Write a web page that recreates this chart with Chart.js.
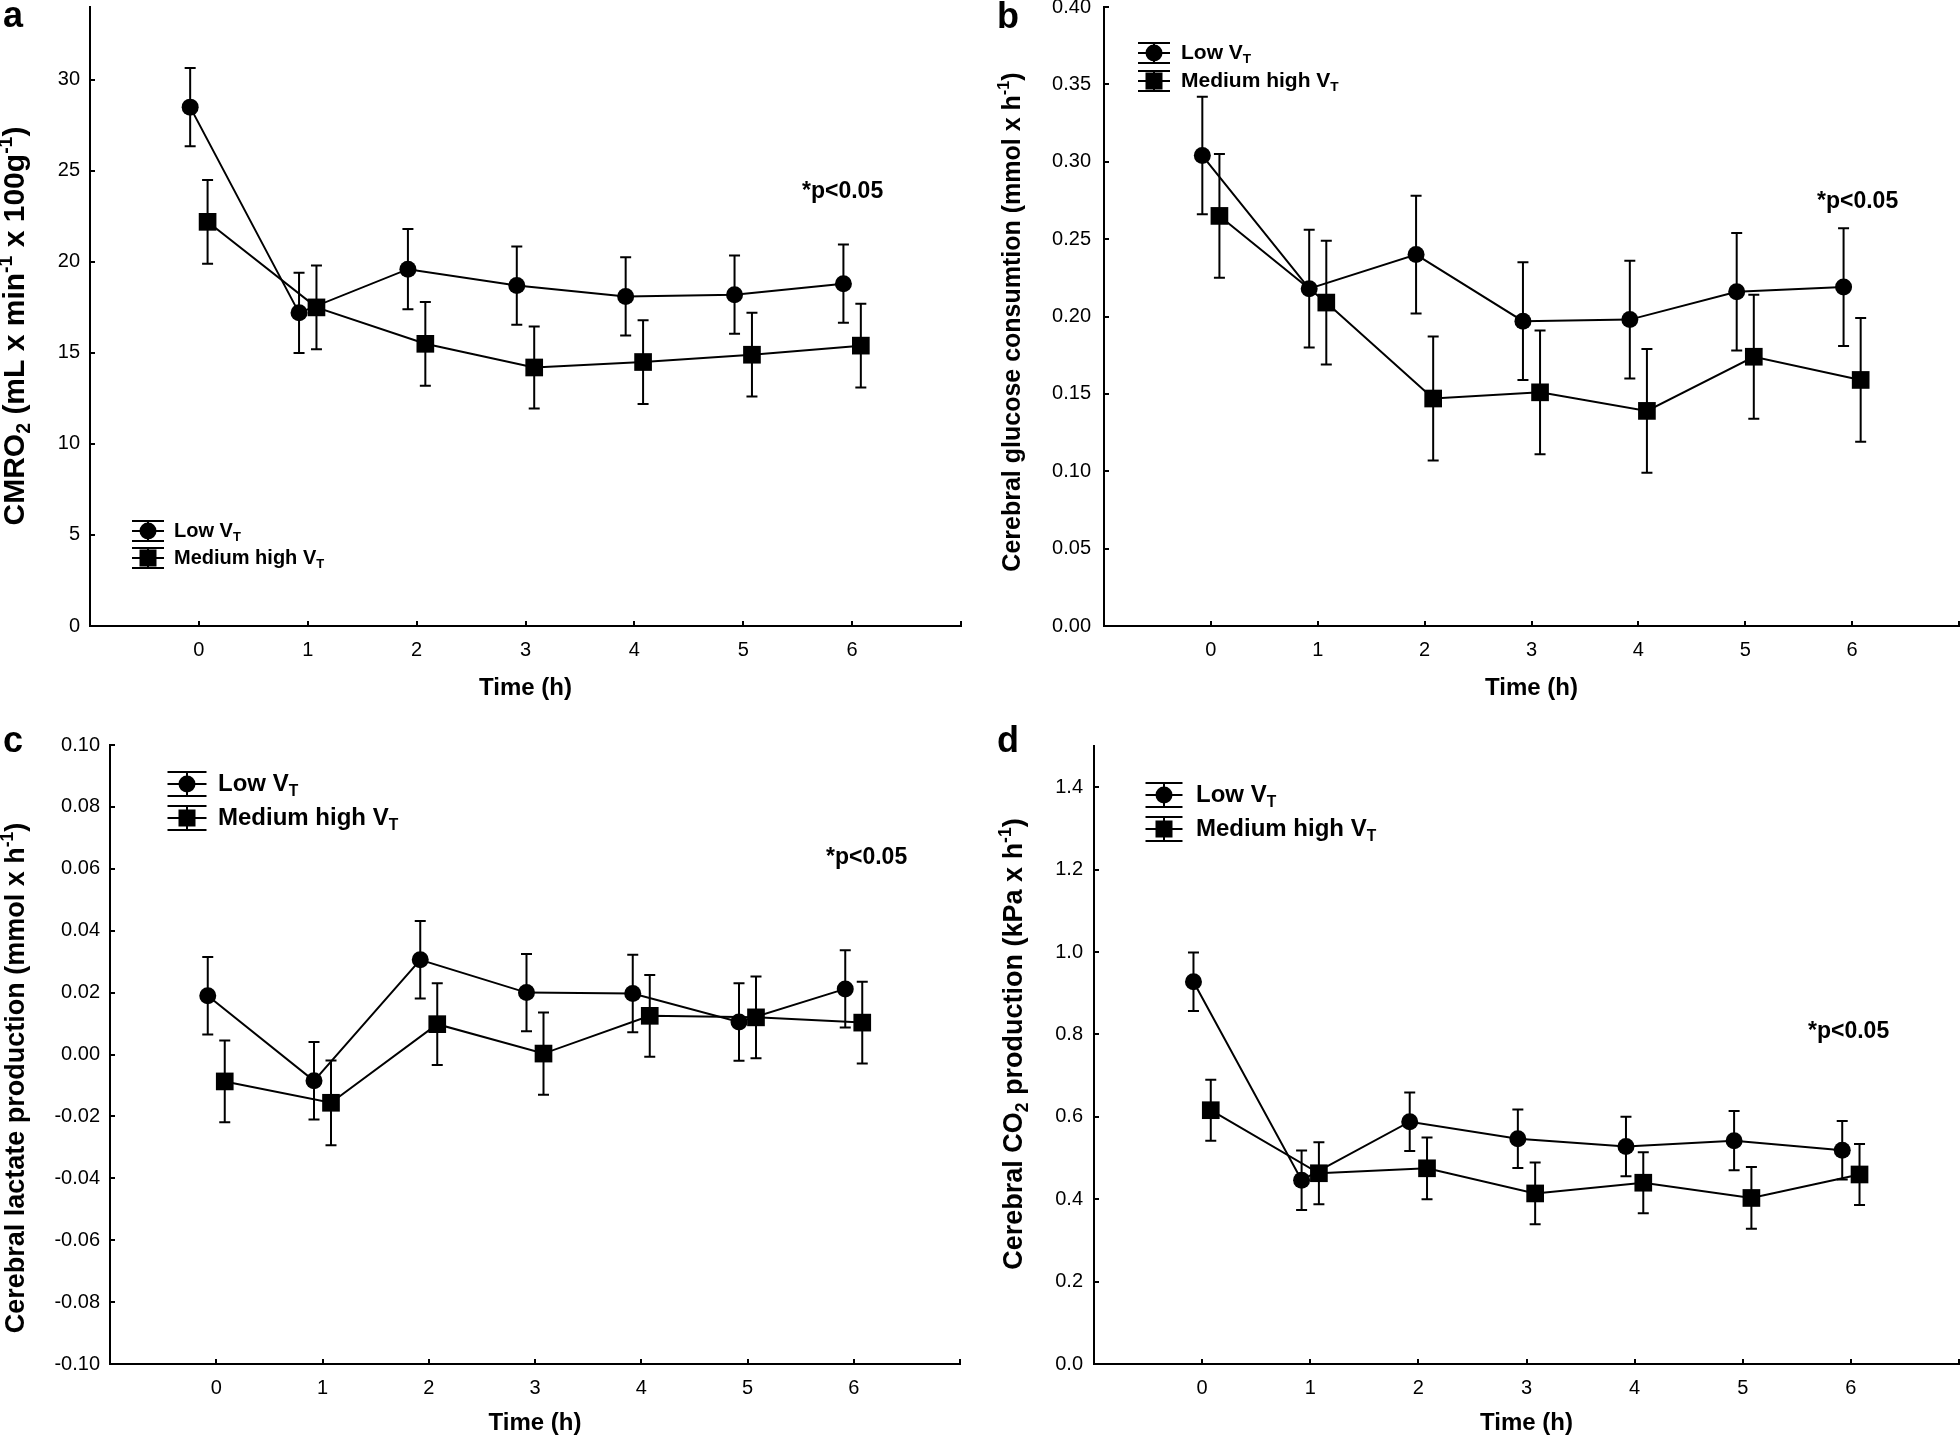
<!DOCTYPE html>
<html>
<head>
<meta charset="utf-8">
<script src="https://cdn.jsdelivr.net/npm/chart.js@4.4.1/dist/chart.umd.min.js"></script>
<style>
  html, body { margin: 0; padding: 0; background: #fff; overflow: hidden; }
  body { width: 1960px; height: 1440px; position: relative; }
  canvas { position: absolute; }
</style>
</head>
<body>
<canvas id="chartA"></canvas>
<canvas id="chartB"></canvas>
<canvas id="chartC"></canvas>
<canvas id="chartD"></canvas>
<script>
// time points (h)
const hours = [0, 1, 2, 3, 4, 5, 6];
const legendLabels = ["Low V", "Medium high V"]; // V gets a subscript T
const xTitle = "Time (h)";
const pValueText = "*p<0.05";

// a: CMRO2
const cmroLow = [28.5, 17.2, 19.6, 18.7, 18.1, 18.2, 18.8];
const cmroLowErr = [2.15, 2.2, 2.2, 2.15, 2.15, 2.15, 2.15];
const cmroMed = [22.2, 17.5, 15.5, 14.2, 14.5, 14.9, 15.4];
const cmroMedErr = [2.3, 2.3, 2.3, 2.25, 2.3, 2.3, 2.3];

// b: cerebral glucose consumption
const glucLow = [0.304, 0.218, 0.240, 0.197, 0.198, 0.216, 0.219];
const glucLowErr = [0.038, 0.038, 0.038, 0.038, 0.038, 0.038, 0.038];
const glucMed = [0.265, 0.209, 0.147, 0.151, 0.139, 0.174, 0.159];
const glucMedErr = [0.040, 0.040, 0.040, 0.040, 0.040, 0.040, 0.040];

// c: cerebral lactate production
const lactLow = [0.019, -0.0085, 0.0306, 0.020, 0.0197, 0.0105, 0.0212];
const lactLowErr = [0.0125, 0.0125, 0.0125, 0.0125, 0.0125, 0.0125, 0.0125];
const lactMed = [-0.0087, -0.0156, 0.0098, 0.0003, 0.0125, 0.012, 0.0103];
const lactMedErr = [0.0132, 0.0137, 0.0132, 0.0133, 0.0132, 0.0132, 0.0132];

// d: cerebral CO2 production
const co2Low = [0.928, 0.446, 0.588, 0.547, 0.528, 0.542, 0.519];
const co2LowErr = [0.071, 0.072, 0.071, 0.071, 0.072, 0.072, 0.071];
const co2Med = [0.616, 0.463, 0.475, 0.414, 0.440, 0.403, 0.460];
const co2MedErr = [0.074, 0.075, 0.075, 0.075, 0.074, 0.075, 0.074];

const FONT = "'Liberation Sans', Arial, sans-serif";
const M = 30;          // canvas margin round each panel
const JITTER = 0.08;   // horizontal shift of the two groups
Chart.defaults.font.family = FONT;
Chart.defaults.color = "#000";

function drawRich(ctx, parts, x, y, size, align) {
  let w = 0;
  parts.forEach(([t, k]) => {
    ctx.font = "bold " + (k ? size * 0.65 : size) + "px " + FONT;
    w += ctx.measureText(t).width;
  });
  let cx = align === "center" ? x - w / 2 : x;
  parts.forEach(([t, k]) => {
    ctx.font = "bold " + (k ? size * 0.65 : size) + "px " + FONT;
    const dy = k === "sub" ? size * 0.3 : k === "sup" ? -size * 0.32 : 0;
    ctx.fillText(t, cx, y + dy);
    cx += ctx.measureText(t).width;
  });
}

const errorBars = {
  id: "errorBars",
  beforeDatasetsDraw(chart) {
    const { ctx, scales: { x, y } } = chart;
    ctx.save();
    ctx.strokeStyle = "#000";
    ctx.lineWidth = 2;
    chart.data.datasets.forEach((ds) => {
      ds.data.forEach((p, i) => {
        const px = x.getPixelForValue(p.x);
        const top = y.getPixelForValue(p.y + ds.errors[i]);
        const bot = y.getPixelForValue(p.y - ds.errors[i]);
        ctx.beginPath();
        ctx.moveTo(px, top); ctx.lineTo(px, bot);
        ctx.moveTo(px - 5.5, top); ctx.lineTo(px + 5.5, top);
        ctx.moveTo(px - 5.5, bot); ctx.lineTo(px + 5.5, bot);
        ctx.stroke();
      });
    });
    ctx.restore();
  },
};

function textPlugin(cfg) {
  const ox = cfg.left - M, oy = cfg.top - M;
  return {
    id: "panelText",
    afterDraw(chart) {
      const ctx = chart.ctx;
      ctx.save();
      ctx.fillStyle = "#000";
      ctx.strokeStyle = "#000";
      // panel letter
      ctx.textBaseline = "alphabetic";
      ctx.textAlign = "left";
      ctx.font = "bold 36px " + FONT;
      ctx.fillText(cfg.letter, cfg.letterPos[0] - ox, cfg.letterPos[1] - oy);
      ctx.textBaseline = "middle";
      // y title
      ctx.save();
      ctx.translate(cfg.yTitle.x - ox, cfg.yTitle.y - oy);
      ctx.rotate(-Math.PI / 2);
      drawRich(ctx, cfg.yTitle.parts, 0, 0, cfg.yTitle.size, "center");
      ctx.restore();
      // p value
      ctx.font = "bold 23px " + FONT;
      ctx.fillText(pValueText, cfg.pval[0] - ox, cfg.pval[1] - oy);
      // legend
      const lg = cfg.legend;
      ctx.lineWidth = 2;
      legendLabels.forEach((label, i) => {
        const cx = lg.cx - ox, cy = lg.ys[i] - oy;
        ctx.beginPath();
        [-lg.cap, 0, lg.cap].forEach((d) => {
          ctx.moveTo(cx - lg.half, cy + d);
          ctx.lineTo(cx + lg.half, cy + d);
        });
        ctx.moveTo(cx, cy - lg.cap);
        ctx.lineTo(cx, cy + lg.cap);
        ctx.stroke();
        if (i === 0) {
          ctx.beginPath();
          ctx.arc(cx, cy, 8.5, 0, Math.PI * 2);
          ctx.fill();
        } else {
          ctx.fillRect(cx - 8.5, cy - 8.5, 17, 17);
        }
        drawRich(ctx, [[label, ""], ["T", "sub"]], lg.tx - ox, cy, lg.size, "left");
      });
      ctx.restore();
    },
  };
}

function makePanel(id, cfg, low, lowErr, med, medErr) {
  const cw = 980 + 2 * M, ch = 720 + 2 * M;
  const canvas = document.getElementById(id);
  canvas.width = cw;
  canvas.height = ch;
  canvas.style.left = (cfg.left - M) + "px";
  canvas.style.top = (cfg.top - M) + "px";
  const ox = cfg.left - M, oy = cfg.top - M;
  const [pl, pt, pr, pb] = cfg.plot;
  const xH = cfg.titleGap + 14.4;

  const series = (vals, shift) => vals.map((v, i) => ({ x: hours[i] + shift, y: v }));

  return new Chart(canvas.getContext("2d"), {
    type: "scatter",
    data: {
      datasets: [
        {
          label: legendLabels[0],
          data: series(low, -JITTER),
          errors: lowErr,
          showLine: true,
          borderColor: "#000",
          borderWidth: 2,
          backgroundColor: "#000",
          pointStyle: "circle",
          pointRadius: 8.5,
          pointBorderWidth: 0,
        },
        {
          label: legendLabels[1],
          data: series(med, JITTER),
          errors: medErr,
          showLine: true,
          borderColor: "#000",
          borderWidth: 2,
          backgroundColor: "#000",
          pointStyle: "rect",
          pointRadius: 12.5,
          pointBorderWidth: 0,
        },
      ],
    },
    options: {
      responsive: false,
      animation: false,
      devicePixelRatio: 1,
      layout: {
        padding: {
          left: 0,
          top: pt - oy,
          right: ox + cw - pr,
          bottom: oy + ch - pb - xH,
        },
      },
      plugins: { legend: { display: false }, tooltip: { enabled: false } },
      scales: {
        x: {
          type: "linear",
          min: -1,
          max: 7,
          afterFit: (s) => { s.height = xH; },
          border: { display: true, color: "#000", width: 2 },
          grid: { drawOnChartArea: false, color: "#000", lineWidth: 2, tickLength: -5 },
          ticks: {
            stepSize: 1,
            padding: 17,
            font: { size: 20 },
            callback: (v) => (v >= 0 && v <= 6 ? String(v) : ""),
          },
          title: {
            display: true,
            text: xTitle,
            font: { size: 24, weight: "bold" },
            padding: { top: 0, bottom: 0 },
          },
        },
        y: {
          type: "linear",
          min: cfg.yMin,
          max: cfg.yMax,
          afterFit: (s) => { s.width = pl - ox; },
          border: { display: true, color: "#000", width: 2 },
          grid: { drawOnChartArea: false, color: "#000", lineWidth: 2, tickLength: -5 },
          ticks: {
            stepSize: cfg.step,
            includeBounds: false,
            padding: cfg.tickGap + 5,
            font: { size: 20 },
            callback: (v) => (Math.abs(v) < 1e-9 ? 0 : v).toFixed(cfg.dec),
          },
        },
      },
    },
    plugins: [errorBars, textPlugin(cfg)],
  });
}

makePanel("chartA", {
  left: 0, top: 0, plot: [90, 7, 961, 626],
  yMin: 0, yMax: 34, step: 5, dec: 0, tickGap: 10, titleGap: 62,
  letter: "a", letterPos: [3, 27],
  yTitle: { x: 16, y: 326, size: 30, parts: [["CMRO", ""], ["2", "sub"], [" (mL x min", ""], ["-1", "sup"], [" x 100g", ""], ["-1", "sup"], [")", ""]] },
  legend: { cx: 148, ys: [531, 558], half: 16, cap: 10, tx: 174, size: 20 },
  pval: [802, 192],
}, cmroLow, cmroLowErr, cmroMed, cmroMedErr);

makePanel("chartB", {
  left: 980, top: 0, plot: [1104, 7, 1959, 626],
  yMin: 0, yMax: 0.4, step: 0.05, dec: 2, tickGap: 13, titleGap: 62,
  letter: "b", letterPos: [997, 28],
  yTitle: { x: 1013, y: 322, size: 25, parts: [["Cerebral glucose consumtion (mmol x h", ""], ["-1", "sup"], [")", ""]] },
  legend: { cx: 1154, ys: [53, 81], half: 16, cap: 10, tx: 1181, size: 21 },
  pval: [1817, 202],
}, glucLow, glucLowErr, glucMed, glucMedErr);

makePanel("chartC", {
  left: 0, top: 720, plot: [110, 745, 960, 1364],
  yMin: -0.1, yMax: 0.1, step: 0.02, dec: 2, tickGap: 10, titleGap: 59,
  letter: "c", letterPos: [3, 752],
  yTitle: { x: 17, y: 1078, size: 27, parts: [["Cerebral lactate production (mmol x h", ""], ["-1", "sup"], [")", ""]] },
  legend: { cx: 187, ys: [784, 818], half: 19.5, cap: 12, tx: 218, size: 24 },
  pval: [826, 858],
}, lactLow, lactLowErr, lactMed, lactMedErr);

makePanel("chartD", {
  left: 980, top: 720, plot: [1094, 746, 1959, 1364],
  yMin: 0, yMax: 1.5, step: 0.2, dec: 1, tickGap: 11, titleGap: 59,
  letter: "d", letterPos: [997, 752],
  yTitle: { x: 1015, y: 1044, size: 27, parts: [["Cerebral CO", ""], ["2", "sub"], [" production (kPa x h", ""], ["-1", "sup"], [")", ""]] },
  legend: { cx: 1164, ys: [795, 829], half: 18.5, cap: 12, tx: 1196, size: 24 },
  pval: [1808, 1032],
}, co2Low, co2LowErr, co2Med, co2MedErr);
</script>
</body>
</html>
